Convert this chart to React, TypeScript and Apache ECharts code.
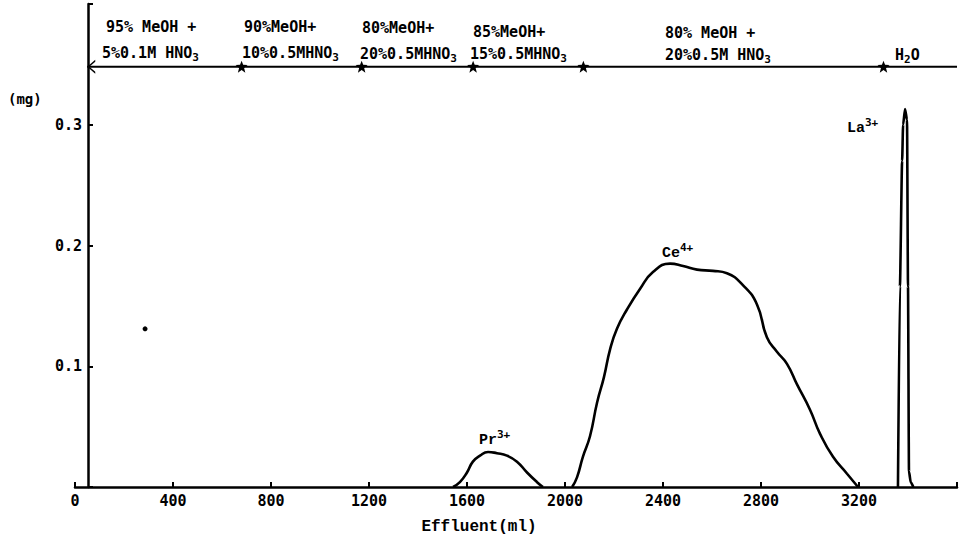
import React, { useEffect, useRef } from "react";
import * as echarts from "echarts";

// ---- data (effluent volume in ml, amount in mg) ----
const xTickValues = [0, 400, 800, 1200, 1600, 2000, 2400, 2800, 3200];

const prSeries = [
  [1543, 0], [1571, 0.004], [1600, 0.012], [1624, 0.021], [1653, 0.026],
  [1686, 0.029], [1722, 0.028], [1763, 0.026], [1804, 0.021], [1845, 0.012],
  [1886, 0.004], [1910, 0],
];

const ceSeries = [
  [2029, 0], [2049, 0.008], [2073, 0.025], [2102, 0.042], [2131, 0.07],
  [2159, 0.091], [2184, 0.114], [2212, 0.131], [2253, 0.147], [2306, 0.164],
  [2359, 0.178], [2429, 0.185], [2482, 0.183], [2539, 0.18], [2604, 0.179],
  [2661, 0.177], [2727, 0.167], [2784, 0.151], [2824, 0.124], [2865, 0.112],
  [2906, 0.102], [2947, 0.085], [3000, 0.064], [3041, 0.044], [3094, 0.025],
  [3151, 0.011], [3196, 0],
];

const laSeries = [
  [3359, 0], [3367, 0.166], [3376, 0.27], [3380, 0.3], [3388, 0.313],
  [3396, 0.304], [3400, 0.166], [3404, 0.013], [3411, 0.004], [3422, 0],
];

const strayDot = [[286, 0.131]];

// eluent change band
const bandStart = 50;
const bandEnd = 3600;
const bandLevel = 0.348;
const bandBoundaries = [680, 1170, 1625, 2075, 3300];

const FONT = '"DejaVu Sans Mono", monospace';
const SERIF_MONO = '"Liberation Mono", "DejaVu Sans Mono", monospace';

const starPath =
  "path://M5,0 L6.3,3.4 L10,3.6 L7.1,6 L8.1,10 L5,7.7 L1.9,10 L2.9,6 L0,3.6 L3.7,3.4 Z";
const chevronPath = "path://M10,0 L0,5 L10,10 L10,8.6 L2.6,5 L10,1.4 Z";

const subRich = {
  t: { fontFamily: FONT, fontWeight: "bold", fontSize: 15, lineHeight: 18, verticalAlign: "top", color: "#000" },
  u: { fontFamily: FONT, fontWeight: "bold", fontSize: 11, verticalAlign: "bottom", color: "#000" },
};

const supRich = {
  b: { fontFamily: SERIF_MONO, fontWeight: "bold", fontSize: 15, lineHeight: 19, verticalAlign: "bottom", color: "#000" },
  s: { fontFamily: FONT, fontWeight: "bold", fontSize: 11, verticalAlign: "top", color: "#000" },
};

function richText(x: number, y: number, text: string, rich: any) {
  return {
    type: "text",
    x,
    y,
    style: {
      text,
      rich,
      fill: "#000",
      align: "left",
      textAlign: "left",
      verticalAlign: "middle",
      textVerticalAlign: "middle",
    },
  };
}

function plainText(x: number, y: number, text: string, font: string, align = "left") {
  return {
    type: "text",
    x,
    y,
    style: {
      text,
      fill: "#000",
      font,
      align,
      textAlign: align,
      verticalAlign: "middle",
      textVerticalAlign: "middle",
    },
  };
}

export default function App() {
  const ref = useRef<HTMLDivElement>(null);

  useEffect(() => {
    if (!ref.current) return;
    const chart = echarts.init(ref.current, null, { renderer: "svg" });

    const bandData: any[] = [];
    bandData.push({ value: [bandStart, bandLevel], symbol: chevronPath, symbolSize: [8, 14], symbolOffset: [4, 0] });
    bandBoundaries.forEach((b) => bandData.push({ value: [b, bandLevel], symbol: starPath, symbolSize: 12 }));
    bandData.push({ value: [bandEnd, bandLevel], symbol: "none" });

    const curveStyle = { color: "#000", width: 2.6 };
    const bandFont = `bold 15px ${FONT}`;

    const option: any = {
      animation: false,
      backgroundColor: "#fff",
      grid: { left: 75, right: 3, top: 4, bottom: 52, containLabel: false },
      xAxis: {
        type: "value",
        min: 0,
        max: 3600,
        interval: 400,
        axisLine: { show: true, onZero: false, lineStyle: { color: "#000", width: 2.5 } },
        axisTick: { show: true, inside: true, length: 5, lineStyle: { color: "#000", width: 2 } },
        splitLine: { show: false },
        axisLabel: {
          margin: 6,
          color: "#000",
          fontFamily: FONT,
          fontWeight: "bold",
          fontSize: 15,
          formatter: (v: number) => (xTickValues.indexOf(v) >= 0 ? String(v) : ""),
        },
      },
      yAxis: {
        type: "value",
        min: 0,
        max: 0.4,
        interval: 0.1,
        offset: -13,
        axisLine: { show: true, onZero: false, lineStyle: { color: "#000", width: 2.5 } },
        axisTick: { show: true, inside: true, length: 5, lineStyle: { color: "#000", width: 2 } },
        splitLine: { show: false },
        axisLabel: {
          margin: 6,
          color: "#000",
          fontFamily: FONT,
          fontWeight: "bold",
          fontSize: 15,
          padding: [12, 0, 0, 0],
          formatter: (v: number) => (v > 0.05 && v < 0.35 ? v.toFixed(1) : ""),
        },
      },
      series: [
        {
          name: "band",
          type: "line",
          data: bandData,
          lineStyle: { color: "#000", width: 2 },
          itemStyle: { color: "#000" },
          showSymbol: true,
          silent: true,
          z: 3,
        },
        {
          name: "Pr",
          type: "line",
          data: prSeries,
          smooth: 0.5,
          showSymbol: false,
          lineStyle: curveStyle,
        },
        {
          name: "Ce",
          type: "line",
          data: ceSeries,
          smooth: 0.5,
          showSymbol: false,
          lineStyle: curveStyle,
        },
        {
          name: "La",
          type: "line",
          data: laSeries,
          smooth: 0.2,
          smoothMonotone: "x",
          showSymbol: false,
          lineStyle: curveStyle,
        },
        {
          name: "dot",
          type: "scatter",
          data: strayDot,
          symbolSize: 5,
          itemStyle: { color: "#000", opacity: 1 },
        },
      ],
      graphic: [
        plainText(8, 99, "(mg)", `bold 14px ${FONT}`),
        plainText(479, 527, "Effluent(ml)", `bold 16px ${SERIF_MONO}`, "center"),
        // band texts, first line
        plainText(106, 27, "95% MeOH +", bandFont),
        plainText(244, 27, "90%MeOH+", bandFont),
        plainText(362, 28, "80%MeOH+", bandFont),
        plainText(473, 32, "85%MeOH+", bandFont),
        plainText(665, 33, "80% MeOH +", bandFont),
        // band texts, second line
        richText(102, 54, "{t|5%0.1M HNO}{u|3}", subRich),
        richText(242, 54, "{t|10%0.5MHNO}{u|3}", subRich),
        richText(360, 55, "{t|20%0.5MHNO}{u|3}", subRich),
        richText(470, 55, "{t|15%0.5MHNO}{u|3}", subRich),
        richText(665, 56, "{t|20%0.5M HNO}{u|3}", subRich),
        richText(895, 56, "{t|H}{u|2}{t|O}", subRich),
        // peak labels
        richText(479, 438, "{b|Pr}{s|3+}", supRich),
        richText(662, 251, "{b|Ce}{s|4+}", supRich),
        richText(847, 126, "{b|La}{s|3+}", supRich),
      ],
    };

    chart.setOption(option);
    return () => chart.dispose();
  }, []);

  return (
    <div
      ref={ref}
      style={{ position: "fixed", left: 0, top: 0, width: 960, height: 539, background: "#fff" }}
    />
  );
}
